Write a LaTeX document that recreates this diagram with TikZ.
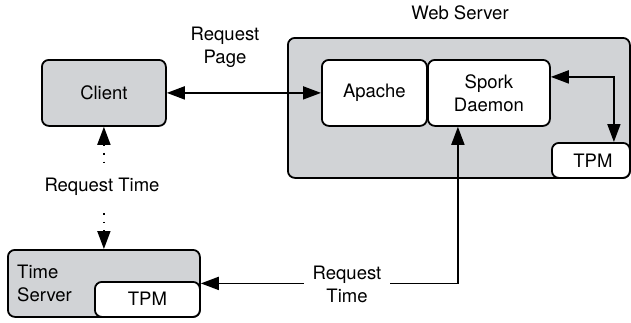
\documentclass[tikz,border=0pt]{standalone}
\usepackage{fontspec}
\setmainfont{TeX Gyre Heros}
\usetikzlibrary{arrows.meta,calc}
\definecolor{boxgrey}{RGB}{209,211,214}
\tikzset{
  x=1pt, y=-1pt,
  every node/.style={font=\fontsize{18.5}{23}\selectfont, inner sep=0pt},
  box/.style={draw, line width=1.8pt, rounded corners=7pt, anchor=north west},
  greybox/.style={box, fill=boxgrey},
  whitebox/.style={box, fill=white},
  tip/.style={line width=1.8pt, >={Triangle[length=18pt,width=13pt]}},
  lbl/.style={align=center, fill=white, inner xsep=9pt, inner ysep=3pt},
}
\newcommand{\boxat}[6]{%
  \node[#1, minimum width=#4-#2, minimum height=#5-#3] (#6) at (#2,#3) {};}
\begin{document}
\begin{tikzpicture}
\useasboundingbox (0,0) rectangle (631,322);

% Client
\boxat{greybox}{41}{59}{165}{125}{client}
\node at (client.center) {Client};

% Web server with its components
\boxat{greybox}{287}{37}{629}{177}{web}
\node at (460,13) {Web Server};
\boxat{whitebox}{321}{59}{426}{125}{apache}
\node at (apache.center) {Apache};
\boxat{whitebox}{427}{59}{549}{125}{spork}
\node[align=center] at (spork.center) {Spork\\Daemon};
\boxat{whitebox}{551}{142}{629}{177}{wtpm}
\node at ([xshift=2pt]wtpm.center) {TPM};

% Time server
\boxat{greybox}{7}{249}{199}{316}{timesrv}
\node[align=left, anchor=west] at (17,283) {Time\\Server};
\boxat{whitebox}{94}{281}{199}{316}{ttpm}
\node at ([yshift=1pt]ttpm.center) {TPM};

% Page request between client and Apache
\draw[tip, <->] (client.east) -- (apache.west);
\node[align=center] at (225,47) {Request\\Page};

% Spork daemon <-> web server TPM
\draw[tip, <->] ([yshift=16pt]spork.east) -| ([xshift=23pt]wtpm.north);

% Dotted time request between client and time server
\draw[tip, <->, dash pattern=on 1.6pt off 7pt] (client.south) -- (timesrv.north);
\node[lbl, inner ysep=12pt] at (102,187) {Request Time};

% Time request from Spork daemon to time server
\coordinate (sp) at ([xshift=-31pt]spork.south);
\draw[tip, <->] (sp) |- (timesrv.east);
\node[lbl] at (347,284) {Request\\Time};
\end{tikzpicture}
\end{document}
